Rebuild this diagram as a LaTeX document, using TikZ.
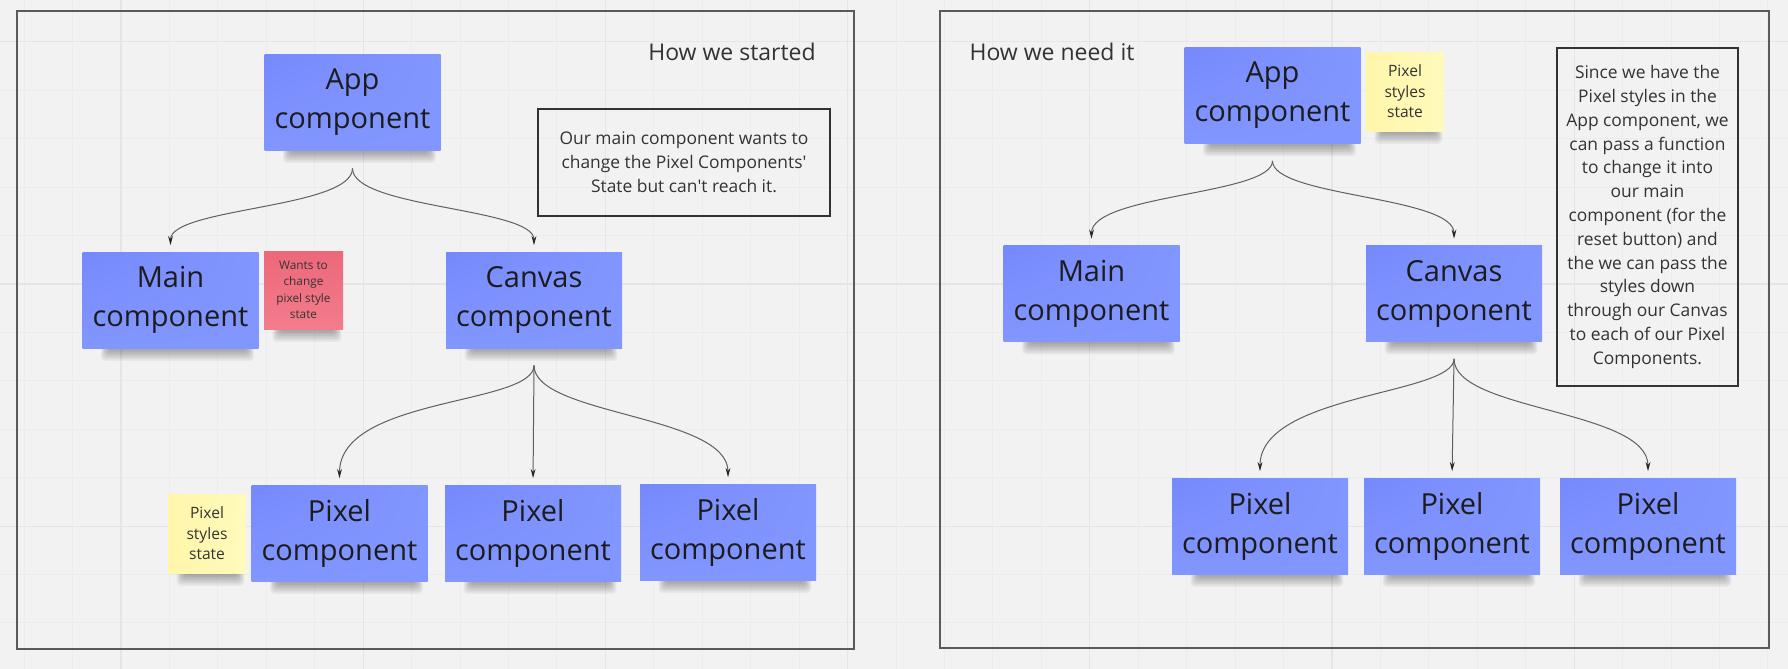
\documentclass[tikz,border=0pt]{standalone}
\usepackage{fontspec}
\setmainfont{Open Sans}
\usetikzlibrary{arrows.meta,calc,shadings}

\definecolor{paper}{HTML}{F2F2F2}
\definecolor{gridminor}{HTML}{ECECEC}
\definecolor{gridmajor}{HTML}{E5E5E5}
\definecolor{blueA}{RGB}{118,137,252}
\definecolor{blueB}{RGB}{130,150,255}
\definecolor{pinkA}{RGB}{236,104,122}
\definecolor{pinkB}{RGB}{243,124,139}
\definecolor{yellowA}{RGB}{255,246,170}
\definecolor{yellowB}{RGB}{255,250,188}
\definecolor{ink}{HTML}{1C1C1C}
\definecolor{softink}{HTML}{333333}
\definecolor{framegray}{HTML}{5A5A5A}
\definecolor{wiregray}{HTML}{606060}

\pgfdeclarelayer{paperlayer}
\pgfdeclarelayer{shadowlayer}
\pgfsetlayers{paperlayer,shadowlayer,main}

\tikzset{
  sticky/.style={rectangle, inner sep=0pt, align=center},
  bluesticky/.style={sticky, minimum width=88pt, minimum height=48pt,
    upper left=blueA, upper right=blueB, lower left=blueB, lower right=blueB,
    text=ink, font=\fontsize{14.5pt}{19.5pt}\selectfont},
  pinksticky/.style={sticky, minimum width=39.5pt, minimum height=39pt,
    upper left=pinkA, upper right=pinkA, lower left=pinkB, lower right=pinkB,
    text=softink, font=\fontsize{5.9pt}{8.2pt}\selectfont},
  yellowsticky/.style={sticky, minimum width=39pt, minimum height=39.5pt,
    upper left=yellowA, upper right=yellowB, lower left=yellowA, lower right=yellowB,
    text=softink, font=\fontsize{7.8pt}{10.3pt}\selectfont},
  notebox/.style={rectangle, draw=black!80, line width=0.55pt, inner sep=0pt,
    align=center, text=softink, font=\fontsize{8.7pt}{11.9pt}\selectfont},
  heading/.style={inner sep=0pt, text=softink, font=\fontsize{11.5pt}{14pt}\selectfont},
  panel/.style={draw=framegray, line width=0.8pt},
  wire/.style={draw=wiregray, line width=0.5pt, shorten >=3.2pt,
    -{Stealth[length=4.6pt, width=2.4pt, color=black!85]}},
}

% soft shadow under a sticky note: node, left inset, right inset (px)
\newcommand\stickyshadow[3]{%
  \foreach \k in {0,...,7}{%
    \fill[black, opacity=0.045, rounded corners=2pt]
      ($(#1.south west)+({#2-\k},-6)$) rectangle ($(#1.south east)+({-#3+\k},{2+1.5*\k})$);
  }%
}

\begin{document}
\begin{tikzpicture}[x=0.5pt, y=-0.5pt]
\useasboundingbox (0,0) rectangle (1788,669);
\clip (0,0) rectangle (1788,669);

% board background with grid
\begin{pgfonlayer}{paperlayer}
  \fill[paper] (0,0) rectangle (1788,669);
  \foreach \i in {-2,...,34}
    \draw[gridminor, line width=0.5pt] ({121+48.44*\i},0) -- ({121+48.44*\i},669);
  \foreach \i in {0,...,13}
    \draw[gridminor, line width=0.5pt] (0,{41.7+48.44*\i}) -- (1788,{41.7+48.44*\i});
  \foreach \i in {0,...,6}
    \draw[gridmajor, line width=0.6pt] ({121+242.2*\i},0) -- ({121+242.2*\i},669);
  \foreach \i in {0,...,2}
    \draw[gridmajor, line width=0.6pt] (0,{41.7+242.2*\i}) -- (1788,{41.7+242.2*\i});
\end{pgfonlayer}

% ---------- left panel: how we started ----------
\draw[panel] (17,11) rectangle (854,649);
\node[heading] (headL) at (732,52) {How we started};

\node[bluesticky] (appL)    at (352.5,102) {App\\component};
\node[bluesticky] (mainL)   at (170.5,300) {Main\\component};
\node[pinksticky] (redL)    at (303.5,290) {Wants to\\change\\pixel style\\state};
\node[bluesticky] (canvasL) at (534,300)   {Canvas\\component};
\node[yellowsticky] (yelL)  at (207,533.5) {Pixel\\styles\\state};
\node[bluesticky] (pix1L)   at (339.5,533) {Pixel\\component};
\node[bluesticky] (pix2L)   at (533,533)   {Pixel\\component};
\node[bluesticky] (pix3L)   at (728,532)   {Pixel\\component};

\node[notebox, minimum width=146pt, minimum height=53.5pt] (noteL) at (684,162.5)
  {Our main component wants to\\change the Pixel Components\textquotesingle\\State but can\textquotesingle t reach it.};

\coordinate (appLout) at ($(appL.south)+(0,18)$);
\coordinate (canLout) at ($(canvasL.south)+(0,17)$);
\draw[wire] (appLout) .. controls +(0,40) and +(0,-44) .. (mainL.north);
\draw[wire] (appLout) .. controls +(0,40) and +(0,-44) .. (canvasL.north);
\draw[wire] (canLout) .. controls +(0,40) and +(0,-88) .. (pix1L.north);
\draw[wire] (canLout) -- (pix2L.north);
\draw[wire] (canLout) .. controls +(0,50) and +(0,-69) .. (pix3L.north);

% ---------- right panel: how we need it ----------
\draw[panel] (940,11) rectangle (1769,648);
\node[heading] (headR) at (1052,52) {How we need it};

\node[bluesticky] (appR)    at (1272.5,95.5) {App\\component};
\node[yellowsticky] (yelR)  at (1405,91.5)   {Pixel\\styles\\state};
\node[bluesticky] (mainR)   at (1091.5,293.5) {Main\\component};
\node[bluesticky] (canvasR) at (1454,293.5)  {Canvas\\component};
\node[bluesticky] (pix1R)   at (1260,526)    {Pixel\\component};
\node[bluesticky] (pix2R)   at (1452,526)    {Pixel\\component};
\node[bluesticky] (pix3R)   at (1648,526)    {Pixel\\component};

\node[notebox, minimum width=90.5pt, minimum height=169pt] (noteR) at (1647.5,217)
  {Since we have the\\Pixel styles in the\\App component, we\\can pass a function\\to change it into\\our main\\component (for the\\reset button) and\\the we can pass the\\styles down\\through our Canvas\\to each of our Pixel\\Components.};

\coordinate (appRout) at ($(appR.south)+(0,17)$);
\coordinate (canRout) at ($(canvasR.south)+(0,17)$);
\draw[wire] (appRout) .. controls +(0,34) and +(0,-51) .. (mainR.north);
\draw[wire] (appRout) .. controls +(0,36) and +(0,-49) .. (canvasR.north);
\draw[wire] (canRout) .. controls +(0,36) and +(0,-84) .. (pix1R.north);
\draw[wire] (canRout) -- (pix2R.north);
\draw[wire] (canRout) .. controls +(0,52) and +(0,-68) .. (pix3R.north);

% ---------- shadows under the sticky notes ----------
\begin{pgfonlayer}{shadowlayer}
  \foreach \n in {appL,mainL,canvasL,pix1L,pix2L,pix3L,appR,mainR,canvasR,pix1R,pix2R,pix3R}
    {\stickyshadow{\n}{26}{12}}
  \foreach \n in {redL,yelL,yelR}
    {\stickyshadow{\n}{16}{9}}
\end{pgfonlayer}
\end{tikzpicture}
\end{document}
